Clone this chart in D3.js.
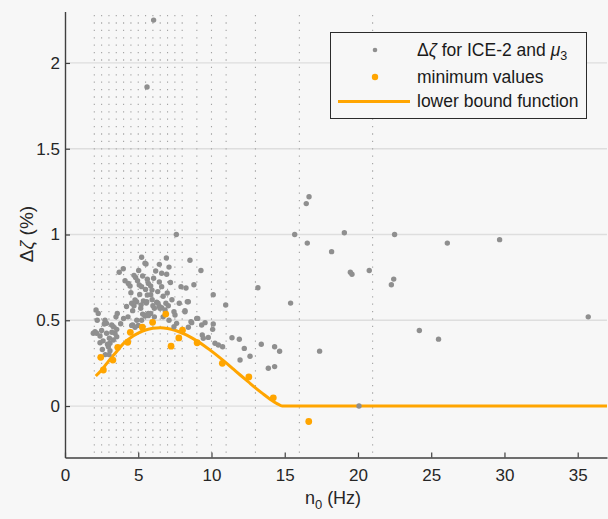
<!doctype html>
<html lang="en">
<head>
<meta charset="UTF-8">
<title>Delta zeta vs n0</title>
<script src="https://d3js.org/d3.v7.min.js"></script>
<style>
  body { margin: 0; background: #f7f7f7; }
  svg { display: block; font-family: "Liberation Sans", Arial, sans-serif; }
</style>
</head>
<body>
<div id="chart"></div>
<script>
// gray scatter: [n0 (Hz), delta zeta (%)]
var grayPoints = [
  [6.05,2.25],[5.6,1.86],[7.6,1.0],[13.17,0.69],[15.68,1.0],[16.47,1.18],[16.66,1.22],
  [16.54,0.95],[18.2,0.90],[19.07,1.01],[19.48,0.78],[19.59,0.768],[20.77,0.79],[22.5,1.0],
  [22.44,0.74],[22.28,0.707],[15.4,0.60],[26.1,0.95],[29.67,0.97],[35.72,0.52],[24.19,0.44],
  [25.5,0.39],[17.38,0.32],[20.07,0.0],[13.4,0.36],[14.31,0.346],[14.65,0.319],[13.88,0.22],
  [14.31,0.23],[12.63,0.29],[12.24,0.336],[11.95,0.268],[11.4,0.398],[11.9,0.389],[10.97,0.589],
  [10.12,0.649],[5.23,0.867],[6.92,0.863],[5.53,0.828],[8.53,0.85],[3.98,0.80],[5.03,0.79],
  [6.44,0.826],[6.19,0.787],[6.6,0.774],[6.94,0.768],[9.28,0.79],[4.71,0.762],[4.82,0.75],
  [5.3,0.758],[5.62,0.739],[4.1,0.73],[4.32,0.715],[4.44,0.70],[5.07,0.706],[5.23,0.696],
  [5.69,0.715],[5.85,0.70],[5.94,0.676],[6.44,0.723],[6.6,0.696],[7.92,0.696],[8.26,0.688],
  [8.8,0.707],[6.33,0.667],[6.98,0.659],[5.62,0.647],[5.85,0.649],[4.89,0.608],[4.71,0.585],
  [6.26,0.605],[6.42,0.583],[6.6,0.573],[6.89,0.599],[7.05,0.585],[7.8,0.599],[8.35,0.608],
  [4.62,0.556],[5.17,0.57],[5.3,0.536],[5.69,0.527],[5.85,0.54],[7.44,0.55],[7.51,0.531],
  [8.19,0.556],[2.12,0.56],[2.27,0.54],[2.73,0.50],[2.84,0.482],[3.57,0.54],[3.48,0.52],
  [3.3,0.462],[8.99,0.511],[8.65,0.486],[9.33,0.472],[9.56,0.486],[10.12,0.478],[7.62,0.482],
  [7.44,0.462],[1.93,0.424],[2.2,0.50],[2.68,0.478],[2.05,0.433],[2.16,0.424],[2.39,0.408],
  [2.39,0.369],[2.84,0.424],[3.03,0.395],[3.07,0.366],[3.3,0.385],[2.96,0.346],[3.07,0.322],
  [3.19,0.472],[3.41,0.424],[3.53,0.404],[3.53,0.447],[4.62,0.472],[5.46,0.53],[6.48,0.57],
  [6.83,0.56],[9.37,0.414],[9.44,0.395],[9.78,0.40],[10.08,0.447],[10.24,0.366],[10.47,0.356],
  [10.76,0.346],[8.6,0.492],[8.42,0.459],[5.46,0.832],[4.55,0.599],[4.78,0.618],[5.35,0.612],
  [5.58,0.608],[5.95,0.62],[6.1,0.57],[5.1,0.65],[4.5,0.66],[6.7,0.64],[7.2,0.72],[7.3,0.62],
  [4.95,0.73],[6.05,0.745],[5.5,0.68],[7.1,0.81],[3.7,0.78],[4.2,0.58],[4.0,0.51],[4.3,0.52],
  [4.9,0.5],[6.1,0.52],[6.7,0.52],[7.1,0.5],[5.0,0.47],[3.8,0.48],[2.5,0.44],[2.6,0.38],
  [2.9,0.36],[3.2,0.43],[4.55,0.47],[4.78,0.459],[5.23,0.50],[5.46,0.525],[5.69,0.54],
  [5.2,0.59],[5.55,0.6],[6.0,0.585],[6.35,0.6],[8.42,0.608],[8.19,0.55],[9.06,0.511],
  [2.55,0.33],[2.75,0.3],[3.0,0.3]
];

// orange minimum values
var minPoints = [
  [2.44,0.284],[2.62,0.21],[3.27,0.268],[3.6,0.342],[4.28,0.372],[4.46,0.43],[5.28,0.46],
  [5.98,0.488],[6.88,0.536],[7.24,0.349],[7.77,0.397],[8.02,0.442],[9.02,0.369],[10.74,0.249],
  [12.55,0.17],[14.22,0.048],[16.64,-0.09]
];

// lower bound function
var boundN0 = [2.1,2.5,3.0,3.5,4.0,4.5,5.0,5.5,6.0,6.5,7.0,7.5,8.0,8.5,9.0,9.5,10.0,10.5,
  11.0,11.5,12.0,12.5,13.0,13.5,14.0,14.5,14.83,37];
var boundDz = [0.175,0.21,0.265,0.315,0.365,0.40,0.425,0.443,0.453,0.456,0.452,0.442,0.425,
  0.405,0.38,0.352,0.32,0.287,0.252,0.215,0.178,0.142,0.106,0.072,0.04,0.013,0,0];

// dotted reference lines (n0 values)
var dottedN0 = [2,2.5,3,3.5,4,4.5,5,5.5,6,6.5,7,7.5,8,9,10,11,13,16,21];

var xTicks = [0,5,10,15,20,25,30,35];
var yTicks = [0,0.5,1,1.5,2];

var width = 608, height = 519;
var orange = "#ffa500", gray = "#8f8f8f";

var svg = d3.select("#chart").append("svg")
    .attr("width", width)
    .attr("height", height);

svg.append("rect").attr("width", width).attr("height", height).attr("fill", "#f7f7f7");

var x = d3.scaleLinear().domain([0, 37]).range([65, 607]);
var y = d3.scaleLinear().domain([-0.3, 2.3]).range([457.5, 11.5]);

// horizontal grid
svg.append("g").selectAll("line")
    .data(yTicks)
    .enter().append("line")
    .attr("x1", x(0)).attr("x2", x(37))
    .attr("y1", function(d) { return y(d); })
    .attr("y2", function(d) { return y(d); })
    .attr("stroke", "#dedede")
    .attr("stroke-width", 1.3);

// dotted verticals
svg.append("g").selectAll("line")
    .data(dottedN0)
    .enter().append("line")
    .attr("x1", function(d) { return x(d); })
    .attr("x2", function(d) { return x(d); })
    .attr("y1", y(2.28)).attr("y2", y(-0.3))
    .attr("stroke", "#a3a3a3")
    .attr("stroke-width", 1.1)
    .attr("stroke-dasharray", "1.3,6.1");

// axes
var yAxis = d3.axisLeft(y).tickValues(yTicks).tickSize(-5).tickSizeOuter(0).tickPadding(5)
    .tickFormat(function(d) { return d; });
var xAxis = d3.axisBottom(x).tickValues(xTicks).tickSize(-5).tickSizeOuter(0).tickPadding(11);

var gy = svg.append("g").attr("transform", "translate(" + x(0) + ",0)").call(yAxis);
var gx = svg.append("g").attr("transform", "translate(0," + y(-0.3) + ")").call(xAxis);

[gx, gy].forEach(function(g) {
    g.select(".domain").attr("stroke", "#404040").attr("stroke-width", 1.4);
    g.selectAll(".tick line").attr("stroke", "#404040").attr("stroke-width", 1.2);
    g.selectAll(".tick text").attr("fill", "#262626")
        .style("font-size", "17px").style("font-family", "'Liberation Sans', Arial, sans-serif");
});

// axis titles
var xt = svg.append("text")
    .attr("x", 333).attr("y", 504)
    .attr("text-anchor", "middle")
    .attr("fill", "#262626")
    .style("font-size", "18px");
xt.append("tspan").text("n");
xt.append("tspan").attr("dy", 5).style("font-size", "13px").text("0");
xt.append("tspan").attr("dy", -5).text(" (Hz)");

var yt = svg.append("text")
    .attr("transform", "translate(33,234) rotate(-90)")
    .attr("text-anchor", "middle")
    .attr("fill", "#262626")
    .style("font-size", "19px");
yt.append("tspan").text("\u0394");
yt.append("tspan").style("font-style", "italic").text("\u03b6");
yt.append("tspan").text(" (%)");

// lower bound line
var line = d3.line()
    .x(function(d, i) { return x(boundN0[i]); })
    .y(function(d) { return y(d); })
    .curve(d3.curveMonotoneX);

svg.append("path")
    .datum(boundDz)
    .attr("d", line)
    .attr("fill", "none")
    .attr("stroke", orange)
    .attr("stroke-width", 3);

// gray points
svg.append("g").selectAll("circle")
    .data(grayPoints)
    .enter().append("circle")
    .attr("cx", function(d) { return x(d[0]); })
    .attr("cy", function(d) { return y(d[1]); })
    .attr("r", 2.7)
    .attr("fill", gray);

// minimum values
svg.append("g").selectAll("circle")
    .data(minPoints)
    .enter().append("circle")
    .attr("cx", function(d) { return x(d[0]); })
    .attr("cy", function(d) { return y(d[1]); })
    .attr("r", 3.4)
    .attr("fill", orange);

// legend
var lg = svg.append("g");
lg.append("rect")
    .attr("x", 330.5).attr("y", 32.5)
    .attr("width", 256).attr("height", 86)
    .attr("fill", "#f7f7f7")
    .attr("stroke", "#2b2b2b")
    .attr("stroke-width", 1);

lg.append("circle").attr("cx", 375).attr("cy", 50).attr("r", 2.3).attr("fill", gray);
lg.append("circle").attr("cx", 375).attr("cy", 77).attr("r", 3.2).attr("fill", orange);
lg.append("line").attr("x1", 338).attr("x2", 410).attr("y1", 101.5).attr("y2", 101.5)
    .attr("stroke", orange).attr("stroke-width", 3);

var legendFont = "17.5px";
var t1 = lg.append("text").attr("x", 417).attr("y", 56).attr("fill", "#1a1a1a").style("font-size", legendFont);
t1.append("tspan").text("\u0394");
t1.append("tspan").style("font-style", "italic").text("\u03b6");
t1.append("tspan").text(" for ICE-2 and ");
t1.append("tspan").style("font-style", "italic").text("\u03bc");
t1.append("tspan").attr("dy", 4).style("font-size", "12.5px").text("3");

lg.append("text").attr("x", 417).attr("y", 83).attr("fill", "#1a1a1a").style("font-size", legendFont)
    .text("minimum values");
lg.append("text").attr("x", 417).attr("y", 107).attr("fill", "#1a1a1a").style("font-size", legendFont)
    .text("lower bound function");
</script>
</body>
</html>
